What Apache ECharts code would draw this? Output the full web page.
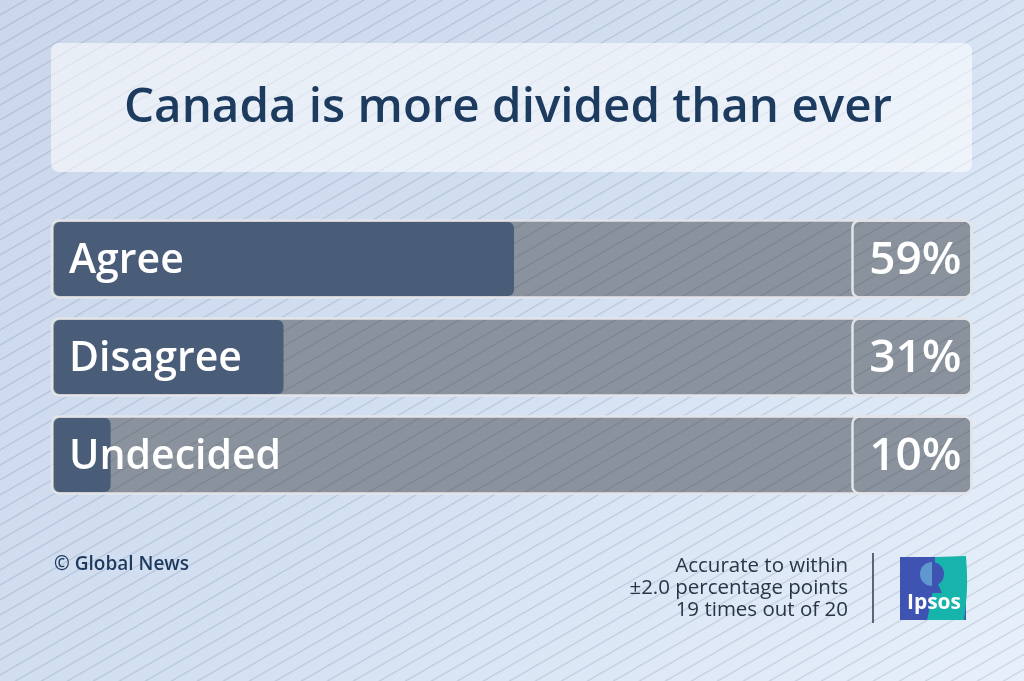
<!DOCTYPE html>
<html>
<head>
<meta charset="utf-8">
<script src="https://cdn.jsdelivr.net/npm/echarts@6/dist/echarts.min.js"></script>
<style>
  html, body { margin: 0; padding: 0; width: 1024px; height: 681px; overflow: hidden; }
  body { background: linear-gradient(135deg, #cad6ea 0%, #d3e0f2 50%, #e7f0fa 100%); }
  #hatch { position: absolute; left: 0; top: 0; width: 1024px; height: 681px; }
  #chart { position: absolute; left: 0; top: 0; width: 1024px; height: 681px; }
</style>
</head>
<body>
<div id="hatch"></div>
<div id="chart"></div>
<script>
// ---- data ----
const titleText = 'Canada is more divided than ever';
const categories = ['Agree', 'Disagree', 'Undecided'];
const values = [59, 31, 10];
const valueLabels = ['59%', '31%', '10%'];
const creditText = '© Global News';
const noteLines = ['Accurate to within', '±2.0 percentage points', '19 times out of 20'];
const logoText = 'Ipsos';

// ---- hatch tiles ----
function makeTile(bg, line, lw) {
  const c = document.createElement('canvas');
  c.width = 26; c.height = 15;
  const ctx = c.getContext('2d');
  if (bg) { ctx.fillStyle = bg; ctx.fillRect(0, 0, 26, 15); }
  ctx.strokeStyle = line; ctx.lineWidth = lw;
  for (let dx = -26; dx <= 26; dx += 26) {
    for (let dy = -15; dy <= 15; dy += 15) {
      ctx.beginPath();
      ctx.moveTo(dx, dy + 15);
      ctx.lineTo(dx + 26, dy);
      ctx.stroke();
    }
  }
  return c;
}
const bgTile = makeTile(null, 'rgba(70,90,125,0.17)', 1.4);
document.getElementById('hatch').style.backgroundImage = 'url(' + bgTile.toDataURL() + ')';
const trackTile = makeTile('#8a939d', 'rgba(50,58,70,0.14)', 1.3);

const chart = echarts.init(document.getElementById('chart'), null, { renderer: 'canvas' });

const FONT = '"Open Sans", "Noto Sans", sans-serif';

function curvePoints() {
  // teal half of the logo: curved left edge, slightly curved right edge
  const pts = [];
  for (let t = 0; t <= 1.0001; t += 0.1) {
    const y = 556 + t * 64;
    pts.push([966 + 2 * Math.sin(t * Math.PI) - t * 2, y]);
  }
  for (let t = 1; t >= -0.0001; t -= 0.1) {
    const y = 557 + t * 63;
    pts.push([935 - 8 * t + 2 * Math.sin(t * Math.PI), y]);
  }
  return pts;
}

const option = {
  backgroundColor: 'transparent',
  animation: false,
  grid: { left: 53, right: 172.5, top: 210, bottom: 177 },
  xAxis: { type: 'value', min: 3, max: 100, show: false },
  yAxis: { type: 'category', data: categories, inverse: true, show: false },
  graphic: [
    { type: 'rect', shape: { x: 51, y: 43, width: 921, height: 129, r: 8 },
      style: { fill: 'rgba(255,255,255,0.56)' }, z: 1 },
    { type: 'text', x: 508, y: 108, z: 2,
      style: { text: titleText, fill: '#1c3b5f', font: '600 47.5px ' + FONT, align: 'center', verticalAlign: 'middle' } },
    { type: 'text', x: 54, y: 565, z: 2,
      style: { text: creditText, fill: '#1d3a5e', font: '600 19px ' + FONT, align: 'left', verticalAlign: 'middle' } },
    { type: 'text', x: 848, y: 588, z: 2,
      style: { text: noteLines.join('\n'), fill: '#273646', font: '500 20.5px ' + FONT, align: 'right', verticalAlign: 'middle', lineHeight: 22 } },
    { type: 'line', shape: { x1: 873, y1: 553, x2: 873, y2: 623 }, style: { stroke: '#2d3b4b', lineWidth: 1.5 }, z: 2 },
    { type: 'rect', shape: { x: 900, y: 557, width: 66, height: 63 }, style: { fill: '#3f53b3' }, z: 2 },
    { type: 'polygon', z: 3, shape: { points: curvePoints() }, style: { fill: '#16b4ab' } },
    { type: 'polygon', z: 4, shape: { points: [[927, 582], [937, 582], [942, 593], [922, 593]] }, style: { fill: '#3f53b3' } },
    { type: 'sector', z: 4, shape: { cx: 932, cy: 574, r: 12, startAngle: Math.PI / 2, endAngle: Math.PI * 1.5 }, style: { fill: '#5f97cf' } },
    { type: 'sector', z: 4, shape: { cx: 932, cy: 574, r: 12, startAngle: -Math.PI / 2, endAngle: Math.PI / 2 }, style: { fill: '#3f53b3' } },
    { type: 'text', z: 5, x: 934, y: 603,
      style: { text: logoText, fill: '#ffffff', font: 'bold 21px ' + FONT, align: 'center', verticalAlign: 'middle' } }
  ],
  series: [{
    type: 'custom',
    coordinateSystem: 'cartesian2d',
    encode: { x: 0, y: 1 },
    data: values.map((v, i) => [v, i]),
    renderItem: function (params, api) {
      const cs = params.coordSys;
      const v = api.value(0);
      const idx = api.value(1);
      const end = api.coord([v, idx]);
      const yc = end[1];
      const band = api.size([0, 1])[1];
      const h = band * 0.786;
      const left = cs.x;
      const right100 = cs.x + cs.width;
      const trackRight = right100 + cs.width * 0.1503;
      return {
        type: 'group',
        children: [
          { type: 'rect', shape: { x: left - 1, y: yc - h / 2, width: trackRight - left + 1, height: h, r: 7 },
            style: { fill: { image: trackTile, repeat: 'repeat' }, stroke: '#e2e4e9', lineWidth: 2.5 } },
          { type: 'rect', shape: { x: left + 1, y: yc - h / 2 + 1.5, width: end[0] - left - 1, height: h - 3, r: 6 },
            style: { fill: '#495c78' } },
          { type: 'rect', shape: { x: right100 + 1, y: yc - h / 2, width: trackRight - right100 - 1, height: h, r: 7 },
            style: { fill: 'none', stroke: '#e2e4e9', lineWidth: 2.5 } },
          { type: 'text', x: left + 16, y: yc + 2,
            style: { text: categories[idx], fill: '#ffffff', font: '600 41px ' + FONT, align: 'left', verticalAlign: 'middle' } },
          { type: 'text', x: trackRight - 10, y: yc + 2,
            style: { text: valueLabels[idx], fill: '#ffffff', font: '600 46px ' + FONT, align: 'right', verticalAlign: 'middle' } }
        ]
      };
    }
  }]
};
chart.setOption(option);
</script>
</body>
</html>
